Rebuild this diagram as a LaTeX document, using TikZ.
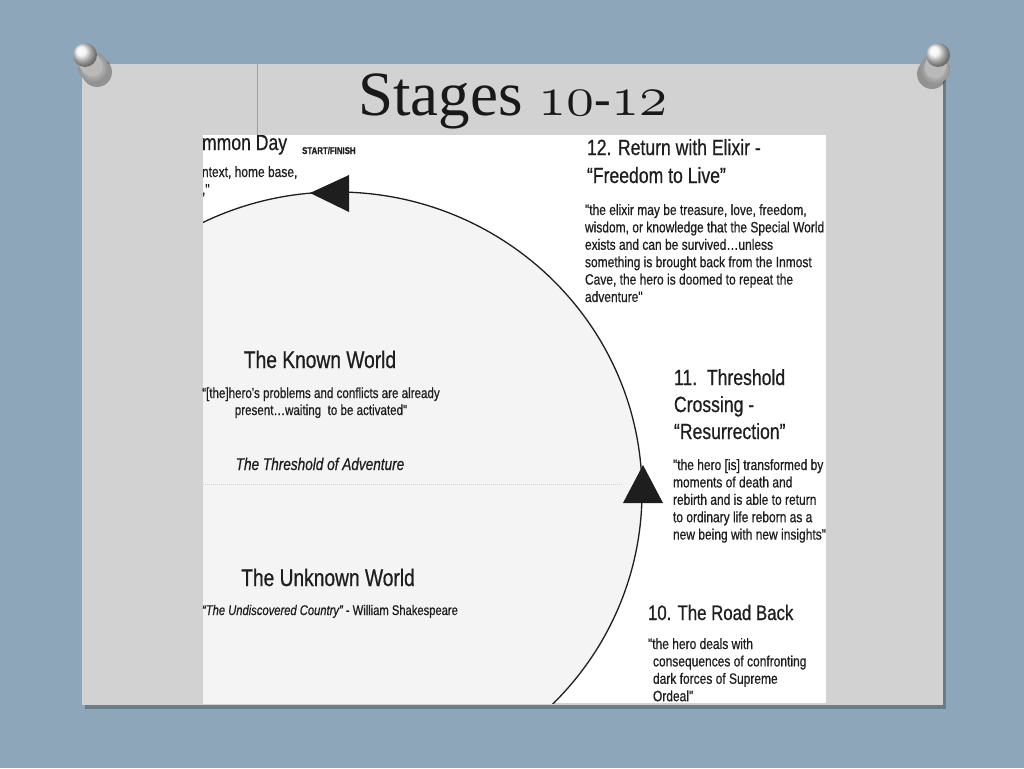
\documentclass[tikz,border=0pt]{standalone}
\usepackage{graphicx}
\usepackage{fontspec}
\newfontfamily\diagfont[FakeStretch=0.8,FakeBold=0.6]{Liberation Sans}
\newfontfamily\titlefont{Liberation Serif}
\newcommand{\leftlines}[1]{\begin{tabular}[t]{@{}l@{}}#1\end{tabular}}
\newcommand{\midlines}[1]{\begin{tabular}[t]{@{}c@{}}#1\end{tabular}}
\newcommand{\osnum}[1]{\scalebox{2.3}{\fontsize{24.88}{25}\selectfont\usefont{OML}{cmm}{m}{it}#1}}
\begin{document}
\begin{tikzpicture}[x=1pt,y=-1pt]
\definecolor{bgColor}{RGB}{141,166,185}
\definecolor{panelColor}{RGB}{210,210,210}
\definecolor{innerColor}{RGB}{244,244,244}
\definecolor{inkColor}{RGB}{30,30,30}
\tikzset{
  head/.style={anchor=base west,inner sep=0pt,outer sep=0pt,text=inkColor,font=\diagfont\fontsize{22}{28}\selectfont},
  body/.style={anchor=base west,inner sep=0pt,outer sep=0pt,text=inkColor,font=\diagfont\fontsize{15}{17.4}\selectfont},
  world/.style={anchor=base,inner sep=0pt,outer sep=0pt,text=inkColor,font=\diagfont\fontsize{24}{24}\selectfont},
  quote/.style={anchor=base,inner sep=0pt,outer sep=0pt,text=inkColor,font=\diagfont\fontsize{14.5}{17}\selectfont},
  pinhead/.style={ball color=gray!10},
  pinbase/.style={inner color=gray!30,outer color=gray!85}
}
\path[use as bounding box,fill=bgColor] (0,0) rectangle (1024,768);

% panel
\path[fill=black,fill opacity=0.25] (85,67) rectangle (946,709);
\path[fill=panelColor] (82,64) rectangle (943,705);
\path[draw=gray!75,line width=0.6pt] (257,64) -- (257,135);
\node[anchor=base west,inner sep=0pt,text=black!90] (title) at (358,115) {\titlefont\fontsize{63}{63}\selectfont Stages \osnum{10}{\fontsize{50}{50}\selectfont -}\osnum{12}};

% pins
\path[fill=black,fill opacity=0.3] (97,72) circle (15);
\path[pinbase] (93,67) circle (15);
\draw[line width=21pt,gray!55,line cap=round] (92,66) -- (85,56);
\path[pinhead] (85,55) circle (12);
\path[fill=black,fill opacity=0.3] (932,74) circle (15);
\path[pinbase] (935,69) circle (15);
\draw[line width=21pt,gray!55,line cap=round] (935,68) -- (938,56);
\path[pinhead] (938,55) circle (12);

% picture
\path[fill=white] (203,135) rectangle (826,703);
\begin{scope}
\path[clip] (203,135) rectangle (826,703);
\path[fill=innerColor,draw=inkColor,line width=1.3pt] (337,492) ellipse (305 and 300);
\path[fill=inkColor] (310,193) -- (349,175) -- (349,212) -- cycle;
\path[fill=inkColor] (643,465) -- (623,503) -- (663,503) -- cycle;
\path[draw=gray!35,line width=0.8pt,dash pattern=on 1pt off 1pt] (203,484) -- (622,484);

\node[head] (common) at (202,150) {mmon Day};
\node[anchor=base west,inner sep=0pt,text=inkColor,font=\diagfont\bfseries\fontsize{9.8}{10}\selectfont] (start) at (302,154) {START/FINISH};
\node[body] (commontxt) at (202,177) {\leftlines{ntext, home base,\\,"}};
\end{scope}

\node[head] (s12) at (587,155) {\leftlines{12. Return with Elixir -\\“Freedom to Live”}};
\node[body] (s12txt) at (585,215) {\leftlines{"the elixir may be treasure, love, freedom,\\wisdom, or knowledge that the Special World\\exists and can be survived\ldots unless\\something is brought back from the Inmost\\Cave, the hero is doomed to repeat the\\adventure"}};

\node[head,font=\diagfont\fontsize{22}{27}\selectfont] (s11) at (674,385) {\leftlines{11.\ \ Threshold\\Crossing -\\“Resurrection”}};
\node[body] (s11txt) at (673,470) {\leftlines{"the hero [is] transformed by\\moments of death and\\rebirth and is able to return\\to ordinary life reborn as a\\new being with new insights"}};

\node[head,font=\diagfont\fontsize{21}{21}\selectfont] (s10) at (648,620) {10. The Road Back};
\node[body] (s10txt) at (648,649) {\leftlines{"the hero deals with\\\hspace*{5pt}consequences of confronting\\\hspace*{5pt}dark forces of Supreme\\\hspace*{5pt}Ordeal"}};

\node[world] (known) at (320,368) {The Known World};
\node[quote] (knowntxt) at (321,398) {\midlines{“[the]hero's problems and conflicts are already\\present\ldots waiting\ \ to be activated"}};
\node[quote,font=\diagfont\itshape\fontsize{17}{17}\selectfont] (threshold) at (320,470) {The Threshold of Adventure};
\node[world] (unknown) at (328,586) {The Unknown World};
\node[quote,font=\diagfont\fontsize{14}{17}\selectfont] (unknowntxt) at (330,615) {\itshape “The Undiscovered Country” \upshape - William Shakespeare};
\end{tikzpicture}
\end{document}
